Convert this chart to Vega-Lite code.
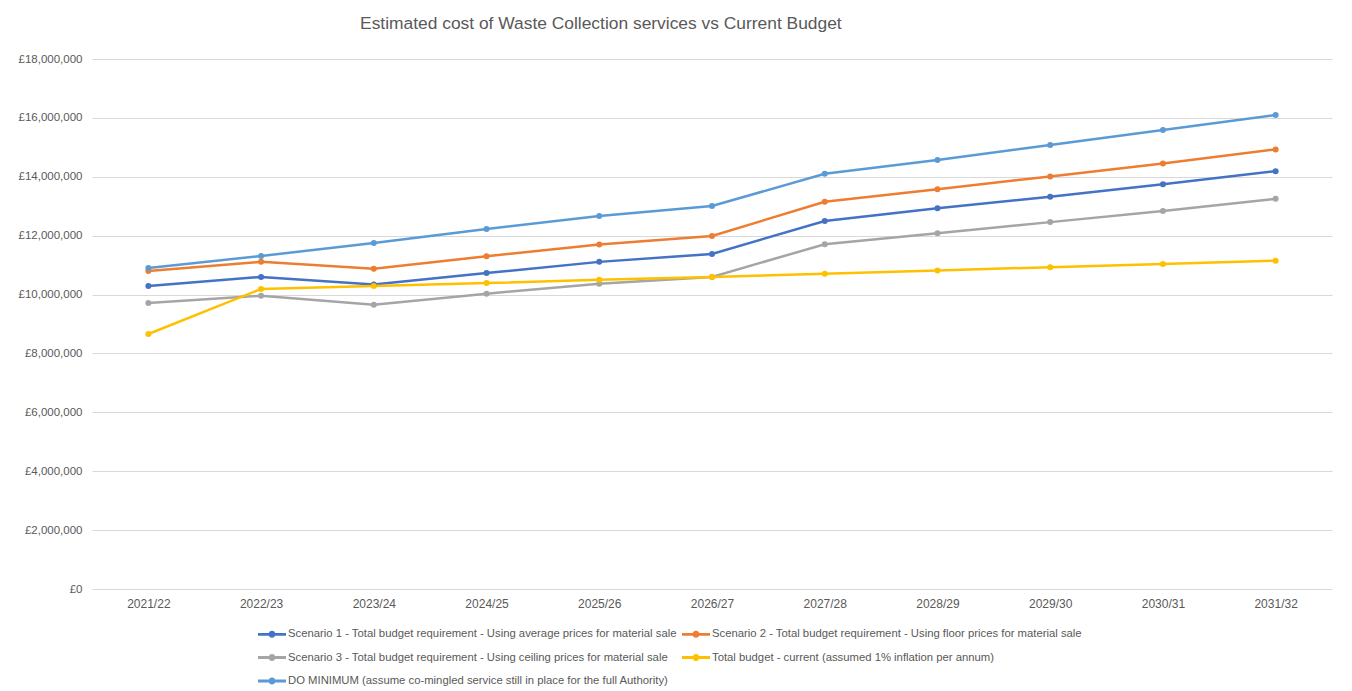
{
  "$schema": "https://vega.github.io/schema/vega-lite/v6.json",
  "autosize": {"type": "none"},
  "width": 1240,
  "height": 530,
  "padding": {"left": 92, "top": 59, "right": 20, "bottom": 102},
  "background": "white",
  "title": {
    "text": "Estimated cost of Waste Collection services vs Current Budget",
    "anchor": "start",
    "dx": 342,
    "offset": 21,
    "font": "Liberation Sans",
    "fontSize": 17.4,
    "fontWeight": "normal",
    "color": "#595959"
  },
  "config": {
    "view": {"stroke": null},
    "font": "Liberation Sans"
  },
  "data": {
    "values": [
      {"year": "2021/22", "series": "Scenario 1 - Total budget requirement - Using average prices for material sale", "value": 10290000},
      {"year": "2022/23", "series": "Scenario 1 - Total budget requirement - Using average prices for material sale", "value": 10600000},
      {"year": "2023/24", "series": "Scenario 1 - Total budget requirement - Using average prices for material sale", "value": 10340000},
      {"year": "2024/25", "series": "Scenario 1 - Total budget requirement - Using average prices for material sale", "value": 10730000},
      {"year": "2025/26", "series": "Scenario 1 - Total budget requirement - Using average prices for material sale", "value": 11110000},
      {"year": "2026/27", "series": "Scenario 1 - Total budget requirement - Using average prices for material sale", "value": 11380000},
      {"year": "2027/28", "series": "Scenario 1 - Total budget requirement - Using average prices for material sale", "value": 12500000},
      {"year": "2028/29", "series": "Scenario 1 - Total budget requirement - Using average prices for material sale", "value": 12930000},
      {"year": "2029/30", "series": "Scenario 1 - Total budget requirement - Using average prices for material sale", "value": 13320000},
      {"year": "2030/31", "series": "Scenario 1 - Total budget requirement - Using average prices for material sale", "value": 13750000},
      {"year": "2031/32", "series": "Scenario 1 - Total budget requirement - Using average prices for material sale", "value": 14190000},
      {"year": "2021/22", "series": "Scenario 2 - Total budget requirement - Using floor prices for material sale", "value": 10800000},
      {"year": "2022/23", "series": "Scenario 2 - Total budget requirement - Using floor prices for material sale", "value": 11110000},
      {"year": "2023/24", "series": "Scenario 2 - Total budget requirement - Using floor prices for material sale", "value": 10880000},
      {"year": "2024/25", "series": "Scenario 2 - Total budget requirement - Using floor prices for material sale", "value": 11300000},
      {"year": "2025/26", "series": "Scenario 2 - Total budget requirement - Using floor prices for material sale", "value": 11700000},
      {"year": "2026/27", "series": "Scenario 2 - Total budget requirement - Using floor prices for material sale", "value": 11990000},
      {"year": "2027/28", "series": "Scenario 2 - Total budget requirement - Using floor prices for material sale", "value": 13150000},
      {"year": "2028/29", "series": "Scenario 2 - Total budget requirement - Using floor prices for material sale", "value": 13580000},
      {"year": "2029/30", "series": "Scenario 2 - Total budget requirement - Using floor prices for material sale", "value": 14010000},
      {"year": "2030/31", "series": "Scenario 2 - Total budget requirement - Using floor prices for material sale", "value": 14450000},
      {"year": "2031/32", "series": "Scenario 2 - Total budget requirement - Using floor prices for material sale", "value": 14930000},
      {"year": "2021/22", "series": "Scenario 3 - Total budget requirement - Using ceiling prices for material sale", "value": 9710000},
      {"year": "2022/23", "series": "Scenario 3 - Total budget requirement - Using ceiling prices for material sale", "value": 9960000},
      {"year": "2023/24", "series": "Scenario 3 - Total budget requirement - Using ceiling prices for material sale", "value": 9650000},
      {"year": "2024/25", "series": "Scenario 3 - Total budget requirement - Using ceiling prices for material sale", "value": 10030000},
      {"year": "2025/26", "series": "Scenario 3 - Total budget requirement - Using ceiling prices for material sale", "value": 10370000},
      {"year": "2026/27", "series": "Scenario 3 - Total budget requirement - Using ceiling prices for material sale", "value": 10600000},
      {"year": "2027/28", "series": "Scenario 3 - Total budget requirement - Using ceiling prices for material sale", "value": 11710000},
      {"year": "2028/29", "series": "Scenario 3 - Total budget requirement - Using ceiling prices for material sale", "value": 12080000},
      {"year": "2029/30", "series": "Scenario 3 - Total budget requirement - Using ceiling prices for material sale", "value": 12460000},
      {"year": "2030/31", "series": "Scenario 3 - Total budget requirement - Using ceiling prices for material sale", "value": 12840000},
      {"year": "2031/32", "series": "Scenario 3 - Total budget requirement - Using ceiling prices for material sale", "value": 13250000},
      {"year": "2021/22", "series": "Total budget - current (assumed 1% inflation per annum)", "value": 8660000},
      {"year": "2022/23", "series": "Total budget - current (assumed 1% inflation per annum)", "value": 10190000},
      {"year": "2023/24", "series": "Total budget - current (assumed 1% inflation per annum)", "value": 10290000},
      {"year": "2024/25", "series": "Total budget - current (assumed 1% inflation per annum)", "value": 10390000},
      {"year": "2025/26", "series": "Total budget - current (assumed 1% inflation per annum)", "value": 10500000},
      {"year": "2026/27", "series": "Total budget - current (assumed 1% inflation per annum)", "value": 10600000},
      {"year": "2027/28", "series": "Total budget - current (assumed 1% inflation per annum)", "value": 10710000},
      {"year": "2028/29", "series": "Total budget - current (assumed 1% inflation per annum)", "value": 10820000},
      {"year": "2029/30", "series": "Total budget - current (assumed 1% inflation per annum)", "value": 10930000},
      {"year": "2030/31", "series": "Total budget - current (assumed 1% inflation per annum)", "value": 11040000},
      {"year": "2031/32", "series": "Total budget - current (assumed 1% inflation per annum)", "value": 11150000},
      {"year": "2021/22", "series": "DO MINIMUM (assume co-mingled service still in place for the full Authority)", "value": 10900000},
      {"year": "2022/23", "series": "DO MINIMUM (assume co-mingled service still in place for the full Authority)", "value": 11310000},
      {"year": "2023/24", "series": "DO MINIMUM (assume co-mingled service still in place for the full Authority)", "value": 11750000},
      {"year": "2024/25", "series": "DO MINIMUM (assume co-mingled service still in place for the full Authority)", "value": 12230000},
      {"year": "2025/26", "series": "DO MINIMUM (assume co-mingled service still in place for the full Authority)", "value": 12670000},
      {"year": "2026/27", "series": "DO MINIMUM (assume co-mingled service still in place for the full Authority)", "value": 13010000},
      {"year": "2027/28", "series": "DO MINIMUM (assume co-mingled service still in place for the full Authority)", "value": 14100000},
      {"year": "2028/29", "series": "DO MINIMUM (assume co-mingled service still in place for the full Authority)", "value": 14570000},
      {"year": "2029/30", "series": "DO MINIMUM (assume co-mingled service still in place for the full Authority)", "value": 15080000},
      {"year": "2030/31", "series": "DO MINIMUM (assume co-mingled service still in place for the full Authority)", "value": 15590000},
      {"year": "2031/32", "series": "DO MINIMUM (assume co-mingled service still in place for the full Authority)", "value": 16100000}
    ]
  },
  "mark": {
    "type": "line",
    "strokeWidth": 2.5,
    "point": {"filled": true, "size": 36}
  },
  "encoding": {
    "x": {
      "field": "year",
      "type": "ordinal",
      "scale": {"type": "point", "padding": 0.5},
      "axis": {
        "title": null,
        "labelAngle": 0,
        "ticks": false,
        "domain": false,
        "labelColor": "#595959",
        "labelFontSize": 12,
        "labelPadding": 9
      }
    },
    "y": {
      "field": "value",
      "type": "quantitative",
      "scale": {"domain": [0, 18000000], "nice": false},
      "axis": {
        "title": null,
        "values": [0, 2000000, 4000000, 6000000, 8000000, 10000000, 12000000, 14000000, 16000000, 18000000],
        "labelExpr": "'£' + format(datum.value, ',')",
        "ticks": false,
        "domain": false,
        "gridColor": "#d9d9d9",
        "gridWidth": 1,
        "labelColor": "#595959",
        "labelFontSize": 11.5,
        "labelPadding": 10
      }
    },
    "color": {
      "field": "series",
      "type": "nominal",
      "scale": {
        "domain": [
          "Scenario 1 - Total budget requirement - Using average prices for material sale",
          "Scenario 3 - Total budget requirement - Using ceiling prices for material sale",
          "DO MINIMUM (assume co-mingled service still in place for the full Authority)",
          "Scenario 2 - Total budget requirement - Using floor prices for material sale",
          "Total budget - current (assumed 1% inflation per annum)"
        ],
        "range": ["#4472C4", "#A5A5A5", "#5B9BD5", "#ED7D31", "#FFC000"]
      },
      "legend": {
        "title": null,
        "orient": "none",
        "legendX": 166,
        "legendY": 561,
        "columns": 2,
        "columnPadding": 5,
        "rowPadding": 3.5,
        "symbolType": "M-1,-0.1L-0.22,-0.1L-0.22,0.1L-1,0.1Z M0.22,-0.1L1,-0.1L1,0.1L0.22,0.1Z M0.25,0A0.25,0.25,0,1,1,-0.25,0A0.25,0.25,0,1,1,0.25,0Z",
        "symbolSize": 784,
        "symbolStrokeWidth": 0,
        "labelFontSize": 11.3,
        "labelColor": "#595959",
        "labelLimit": 600,
        "labelOffset": 2
      }
    }
  }
}
